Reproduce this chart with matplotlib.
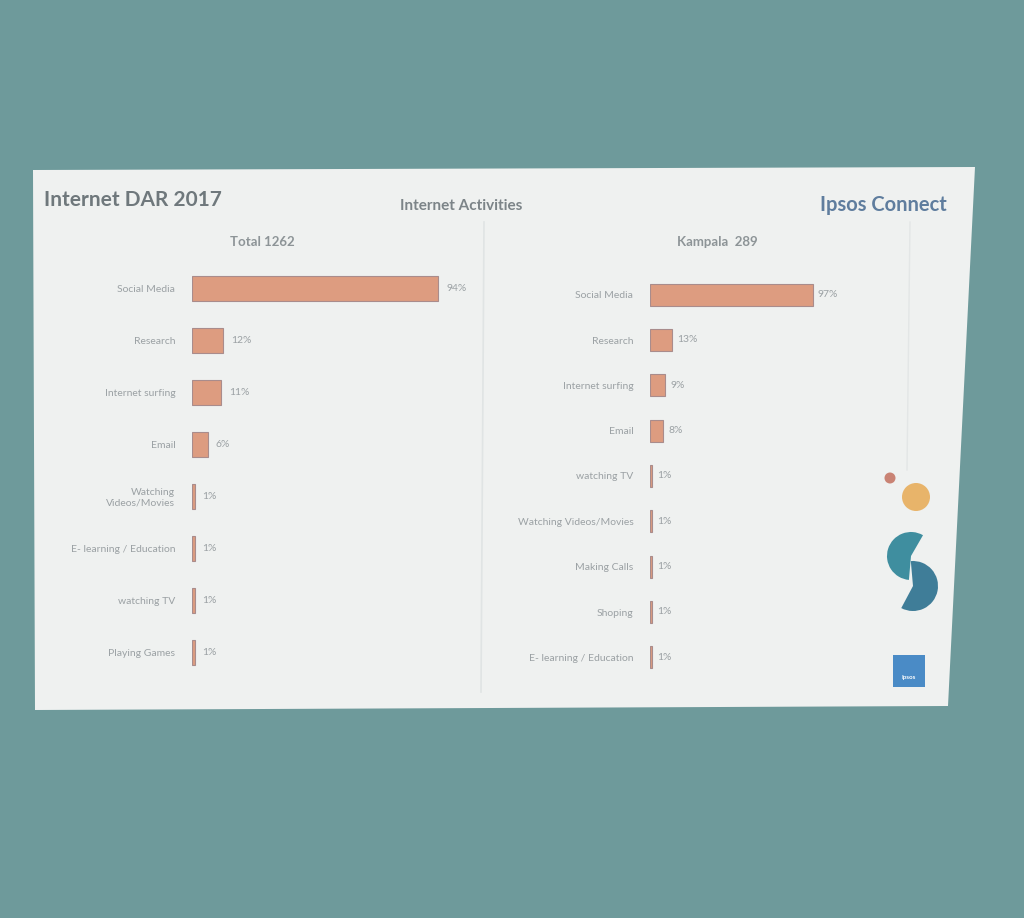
import matplotlib
matplotlib.use("Agg")
import matplotlib.pyplot as plt
from matplotlib.patches import Polygon, Circle, Wedge, Rectangle

W, H = 1024, 918

# ---------------- data ----------------
total_title = "Total 1262"
total_cats = ["Social Media", "Research", "Internet surfing", "Email",
              "Watching\nVideos/Movies", "E- learning / Education",
              "watching TV", "Playing Games"]
total_vals = [94, 12, 11, 6, 1, 1, 1, 1]

kampala_title = "Kampala  289"
kampala_cats = ["Social Media", "Research", "Internet surfing", "Email",
                "watching TV", "Watching Videos/Movies", "Making Calls",
                "Shoping", "E- learning / Education"]
kampala_vals = [97, 13, 9, 8, 1, 1, 1, 1, 1]

plt.rcParams['font.family'] = ['Lato', 'DejaVu Sans']

fig = plt.figure(figsize=(W / 100, H / 100), dpi=100)
fig.patch.set_facecolor('#6e9a9b')


def px_rect(x0, y0, x1, y1):
    return [x0 / W, 1 - y1 / H, (x1 - x0) / W, (y1 - y0) / H]


# background axes in pixel coordinates (decoration only)
bg = fig.add_axes([0, 0, 1, 1], zorder=-10)
bg.set_xlim(0, W)
bg.set_ylim(H, 0)
bg.axis('off')
bg.add_patch(Polygon([(33, 170), (975, 167), (948, 706), (35, 710)], closed=True,
                     facecolor='#eff1f0', edgecolor='none', zorder=0))
bg.plot([484, 481], [222, 692], color='#e0e4e4', lw=1.2, zorder=0.5)
bg.plot([910, 907], [222, 470], color='#e3e6e6', lw=1.0, zorder=0.5)
# Ipsos logo shapes
bg.add_patch(Circle((890, 478), 5.5, facecolor='#c98374', edgecolor='none', zorder=2))
bg.add_patch(Circle((916, 497), 14, facecolor='#e8b46a', edgecolor='none', zorder=2))
bg.add_patch(Wedge((911, 556), 24, 95, 300, facecolor='#3f8e9f', edgecolor='none', zorder=2))
bg.add_patch(Wedge((913, 586), 25, -95, 118, facecolor='#3f7d98', edgecolor='none', zorder=2))
bg.add_patch(Rectangle((893, 655), 32, 32, facecolor='#4a8bc6', edgecolor='none', zorder=2))
bg.text(909, 678, "Ipsos", fontsize=4.5, color='white', ha='center', va='center',
        fontweight='bold', zorder=3)

# titles
bg.text(44, 200, "Internet DAR 2017", fontsize=15, fontweight='bold',
        color='#6f787c', ha='left', va='center')
bg.text(461, 206, "Internet Activities", fontsize=11, fontweight='bold',
        color='#7c8488', ha='center', va='center')
bg.text(947, 205, "Ipsos Connect", fontsize=14.5, fontweight='bold',
        color='#5f7d9e', ha='right', va='center')

bar_color = '#dd9c80'
edge_color = '#a98c8c'
lab_color = '#9ba1a4'


def draw_panel(rect, cats, vals, title, title_xy, fs):
    ax = fig.add_axes(rect, zorder=1)
    ax.set_facecolor('none')
    y = list(range(len(cats)))
    ax.barh(y, vals, height=0.48, color=bar_color, edgecolor=edge_color, linewidth=0.8)
    ax.set_xlim(0, 100)
    ax.set_ylim(len(cats) - 0.5, -0.5)
    ax.set_yticks(y)
    ax.set_yticklabels(cats, fontsize=fs, color=lab_color, linespacing=1.1)
    ax.tick_params(axis='y', length=0, pad=12)
    ax.set_xticks([])
    for s in ax.spines.values():
        s.set_visible(False)
    for yi, v in zip(y, vals):
        ax.text(v + 3, yi, f"{v}%", fontsize=fs, color=lab_color, va='center', ha='left')
    bg.text(title_xy[0], title_xy[1], title, fontsize=9.5, fontweight='bold',
            color='#8d9497', ha='center', va='center')
    return ax


draw_panel(px_rect(192, 263, 454, 678), total_cats, total_vals, total_title, (262, 242), 7.5)
draw_panel(px_rect(650, 272, 818, 680), kampala_cats, kampala_vals, kampala_title, (717, 242), 7.5)

fig.savefig("out.png", dpi=100, facecolor=fig.get_facecolor())
